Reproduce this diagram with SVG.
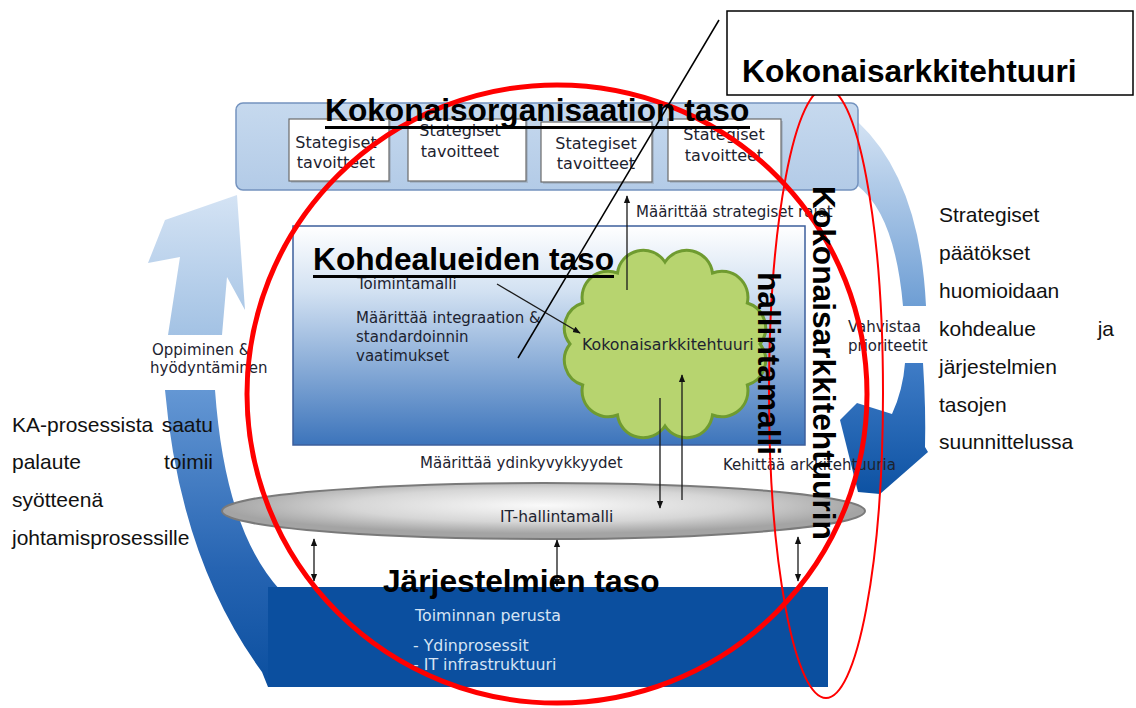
<svg xmlns="http://www.w3.org/2000/svg" width="1136" height="708" viewBox="0 0 1136 708">
  <style>
    .title { font-family: "Liberation Sans", Arial, sans-serif; font-weight: bold; font-size: 31.7px; fill: #000; }
    .body { font-family: "Liberation Sans", Arial, sans-serif; font-size: 21px; fill: #111; }
    .lbl { font-family: "DejaVu Sans", Verdana, sans-serif; font-size: 15px; fill: #1d2330; }
    .goal-t { font-family: "DejaVu Sans", Verdana, sans-serif; font-size: 16px; fill: #1d2330; }
    .lblw { font-family: "DejaVu Sans", Verdana, sans-serif; font-size: 15.8px; fill: #d6e4f4; }
    .goal { fill: #fff; stroke: #6a6a6a; stroke-width: 1.2; }
    .shadow { fill: #9aa7b8; opacity: 0.6; }
    .conn { stroke: #1a1a1a; stroke-width: 1.3; fill: none; }
    .red { fill: none; stroke: #ff0000; }
  </style>
  <defs>
    <linearGradient id="gTop" x1="0" y1="0" x2="0" y2="1">
      <stop offset="0" stop-color="#c6d9ee"/>
      <stop offset="1" stop-color="#b3cbe7"/>
    </linearGradient>
    <linearGradient id="gDomain" x1="0" y1="0" x2="0" y2="1">
      <stop offset="0" stop-color="#ffffff"/>
      <stop offset="0.3" stop-color="#d2e1f2"/>
      <stop offset="1" stop-color="#3c74bb"/>
    </linearGradient>
    <linearGradient id="gLightUp" x1="0" y1="195" x2="0" y2="335" gradientUnits="userSpaceOnUse">
      <stop offset="0" stop-color="#d4e3f4"/>
      <stop offset="1" stop-color="#a3c2e4"/>
    </linearGradient>
    <linearGradient id="gLightRight" x1="0" y1="122" x2="0" y2="306" gradientUnits="userSpaceOnUse">
      <stop offset="0" stop-color="#d3e2f3"/>
      <stop offset="1" stop-color="#6e9ed4"/>
    </linearGradient>
    <linearGradient id="gDarkLeft" x1="0" y1="390" x2="0" y2="687" gradientUnits="userSpaceOnUse">
      <stop offset="0" stop-color="#6497d4"/>
      <stop offset="0.6" stop-color="#2664b2"/>
      <stop offset="1" stop-color="#0b4f9f"/>
    </linearGradient>
    <linearGradient id="gDarkRight" x1="0" y1="363" x2="0" y2="494" gradientUnits="userSpaceOnUse">
      <stop offset="0" stop-color="#3f7cc6"/>
      <stop offset="1" stop-color="#0d52a3"/>
    </linearGradient>
    <radialGradient id="gIt" cx="0.5" cy="0.4" r="0.5">
      <stop offset="0" stop-color="#fafafa"/>
      <stop offset="0.6" stop-color="#d6d6d6"/>
      <stop offset="1" stop-color="#a4a4a4"/>
    </radialGradient>
    <marker id="ah" viewBox="0 0 10 10" refX="9" refY="5" markerWidth="6" markerHeight="6" orient="auto-start-reverse">
      <path d="M0,1 L10,5 L0,9 z" fill="#111"/>
    </marker>
  </defs>

  <!-- cycle arrows around the layers -->
  <g id="cycle">
    <path d="M148 263 L165 220 L237 195 L245 310 L227 277 L222 335 L168 335 L180 257 Z" fill="url(#gLightUp)"/>
    <path d="M165 390 L215 390 Q225 530 280 590 L268 687 L262 672 Q180 560 165 390 Z" fill="url(#gDarkLeft)"/>
    <path d="M858 122 Q920 180 926 306 L903 306 Q895 215 858 186 Z" fill="url(#gLightRight)"/>
    <path d="M905 363 L923 363 Q926 410 925 447 L928 452 L880 494 L858 492 L840 420 L857 403 L892 414 Q903 390 905 363 Z" fill="url(#gDarkRight)"/>
  </g>

  <!-- organisation level -->
  <g id="org-level">
    <rect x="236" y="103" width="622" height="87" rx="7" fill="url(#gTop)" stroke="#7493bf" stroke-width="1.5"/>
  </g>
  <g id="goal-1">
    <rect class="shadow" x="291" y="121" width="100" height="62"/>
    <rect class="goal" x="289" y="119" width="100" height="62"/>
    <text class="goal-t" x="336" y="148" text-anchor="middle">Stategiset</text>
    <text class="goal-t" x="336" y="168" text-anchor="middle">tavoitteet</text>
  </g>
  <g id="goal-2">
    <rect class="shadow" x="410" y="121" width="118" height="62"/>
    <rect class="goal" x="408" y="119" width="118" height="62"/>
    <text class="goal-t" x="460" y="136" text-anchor="middle">Stategiset</text>
    <text class="goal-t" x="460" y="157" text-anchor="middle">tavoitteet</text>
  </g>
  <g id="goal-3">
    <rect class="shadow" x="543" y="124" width="111" height="60"/>
    <rect class="goal" x="541" y="122" width="111" height="60"/>
    <text class="goal-t" x="596" y="149" text-anchor="middle">Stategiset</text>
    <text class="goal-t" x="596" y="169" text-anchor="middle">tavoitteet</text>
  </g>
  <g id="goal-4">
    <rect class="shadow" x="670" y="121" width="113" height="62"/>
    <rect class="goal" x="668" y="119" width="113" height="62"/>
    <text class="goal-t" x="724" y="140" text-anchor="middle">Stategiset</text>
    <text class="goal-t" x="724" y="161" text-anchor="middle">tavoitteet</text>
  </g>

  <!-- domain level -->
  <g id="domain-level">
    <rect x="293" y="226" width="512" height="219" fill="url(#gDomain)" stroke="#3d5f9c" stroke-width="1.5"/>
    <text class="lbl" x="357" y="289">Toimintamalli</text>
    <text class="lbl" x="356" y="323">Määrittää integraation &amp;</text>
    <text class="lbl" x="356" y="342">standardoinnin</text>
    <text class="lbl" x="356" y="361">vaatimukset</text>
  </g>

  <g id="architecture-cloud">
    <path d="M760 344 A26 26 0 0 1 747.3 385 A26 26 0 0 1 712.5 415 A26 26 0 0 1 665 426 A26 26 0 0 1 617.5 415 A26 26 0 0 1 582.7 385 A26 26 0 0 1 570 344 A26 26 0 0 1 582.7 303 A26 26 0 0 1 617.5 273 A26 26 0 0 1 665 262 A26 26 0 0 1 712.5 273 A26 26 0 0 1 747.3 303 A26 26 0 0 1 760 344 Z" fill="#b7d46f" stroke="#6f9b30" stroke-width="3"/>
    <text class="lbl" x="582" y="350" style="font-size:15.8px">Kokonaisarkkitehtuuri</text>
  </g>

  <!-- IT governance model -->
  <g id="it-model">
    <ellipse cx="543.5" cy="511" rx="321.5" ry="28" fill="url(#gIt)" stroke="#7a7a7a" stroke-width="2"/>
    <text class="lbl" x="500" y="522" style="font-size:15.5px">IT-hallintamalli</text>
  </g>

  <!-- systems level -->
  <g id="systems-level">
    <rect x="268" y="587" width="560" height="100" fill="#0b4f9f"/>
    <text class="lblw" x="415" y="621">Toiminnan perusta</text>
    <text class="lblw" x="413" y="651">- Ydinprosessit</text>
    <text class="lblw" x="413" y="670">- IT infrastruktuuri</text>
  </g>

  <!-- connectors -->
  <g id="connectors">
    <line class="conn" x1="627" y1="290" x2="627" y2="196" marker-end="url(#ah)"/>
    <line class="conn" x1="497" y1="284" x2="580" y2="333" marker-end="url(#ah)"/>
    <line class="conn" x1="660" y1="398" x2="660" y2="508" marker-end="url(#ah)"/>
    <line class="conn" x1="682" y1="500" x2="682" y2="375" marker-end="url(#ah)"/>
    <line class="conn" x1="314" y1="539" x2="314" y2="581" marker-start="url(#ah)" marker-end="url(#ah)"/>
    <line class="conn" x1="557" y1="540" x2="557" y2="586" marker-start="url(#ah)" marker-end="url(#ah)"/>
    <line class="conn" x1="798" y1="537" x2="798" y2="581" marker-start="url(#ah)" marker-end="url(#ah)"/>
  </g>

  <!-- flow labels -->
  <g id="flow-labels">
    <text class="lbl" x="636" y="217">Määrittää strategiset rajat</text>
    <text class="lbl" x="420" y="468">Määrittää ydinkyvykkyydet</text>
    <text class="lbl" x="723" y="470">Kehittää arkkitehtuuria</text>
    <text class="lbl" x="152" y="355">Oppiminen &amp;</text>
    <text class="lbl" x="150" y="373">hyödyntäminen</text>
    <text class="lbl" x="848" y="332">Vahvistaa</text>
    <text class="lbl" x="848" y="351">prioriteetit</text>
  </g>

  <!-- side notes -->
  <g id="note-left">
    <text class="body" x="12" y="432">KA-prosessista</text>
    <text class="body" x="213" y="432" text-anchor="end">saatu</text>
    <text class="body" x="12" y="469">palaute</text>
    <text class="body" x="213" y="469" text-anchor="end">toimii</text>
    <text class="body" x="12" y="507">syötteenä</text>
    <text class="body" x="12" y="545">johtamisprosessille</text>
  </g>
  <g id="note-right">
    <text class="body" x="939" y="222">Strategiset</text>
    <text class="body" x="939" y="260">päätökset</text>
    <text class="body" x="939" y="298">huomioidaan</text>
    <text class="body" x="939" y="336">kohdealue</text>
    <text class="body" x="1114" y="336" text-anchor="end">ja</text>
    <text class="body" x="939" y="374">järjestelmien</text>
    <text class="body" x="939" y="412">tasojen</text>
    <text class="body" x="939" y="449">suunnittelussa</text>
  </g>

  <!-- highlight marks -->
  <g id="highlights">
    <ellipse class="red" cx="557" cy="394" rx="310" ry="309" stroke-width="5"/>
    <ellipse class="red" cx="826" cy="393" rx="57" ry="305" stroke-width="2"/>
    <line x1="719" y1="20" x2="518" y2="358" stroke="#000" stroke-width="1.5"/>
  </g>

  <!-- level titles -->
  <g id="titles">
    <text class="title" x="325" y="121">Kokonaisorganisaation taso</text>
    <rect x="325" y="126" width="425" height="3" fill="#000"/>
    <text class="title" x="313" y="270">Kohdealueiden taso</text>
    <rect x="313" y="275" width="301" height="3" fill="#000"/>
    <text class="title" x="383" y="592">Järjestelmien taso</text>
    <text class="title" transform="translate(813,186) rotate(90)">Kokonaisarkkitehtuurin</text>
    <text class="title" transform="translate(758,272) rotate(90)">hallintamalli</text>
  </g>

  <g id="callout">
    <rect x="727" y="11" width="406" height="84" fill="#fff" stroke="#000" stroke-width="1.5"/>
    <text class="title" x="742" y="82">Kokonaisarkkitehtuuri</text>
  </g>
</svg>
